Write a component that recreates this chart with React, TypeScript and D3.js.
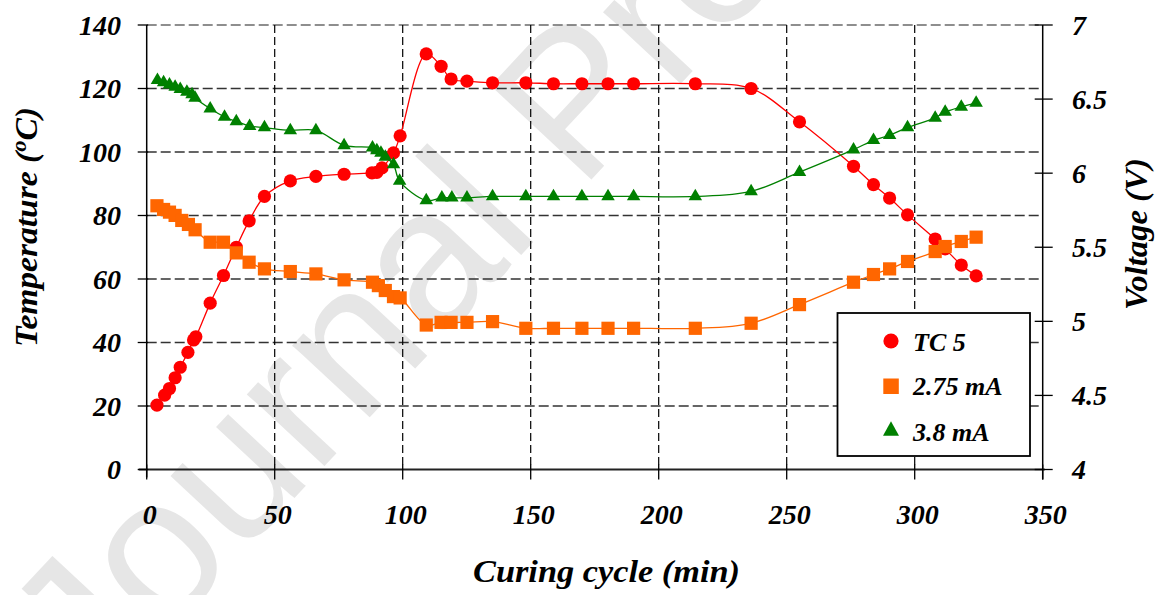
import React from "react";
import * as d3 from "d3";

const xTicks = [0, 50, 100, 150, 200, 250, 300, 350];
const tempTicks = [0, 20, 40, 60, 80, 100, 120, 140];
const voltTicks = [4, 4.5, 5, 5.5, 6, 6.5, 7];

const tcTime = [4.0, 7.0, 8.9, 11.1, 13.1, 16.1, 18.3, 19.2, 24.8, 30.0, 35.0, 40.0, 46.0, 56.1, 66.1, 77.1, 88.0, 89.9, 91.9, 96.4, 99.0, 109.2, 115.0, 118.9, 125.1, 135.1, 148.1, 158.9, 170.0, 180.2, 190.2, 214.3, 236.1, 255.0, 276.1, 283.9, 290.2, 297.2, 308.0, 311.9, 318.2, 324.0];
const tcTemp = [20.3, 23.4, 25.5, 28.9, 32.2, 36.9, 40.8, 41.8, 52.4, 61.1, 70.0, 78.3, 86.0, 90.9, 92.3, 93.0, 93.4, 93.6, 95.0, 99.7, 105.1, 130.9, 127.0, 123.0, 122.3, 121.8, 121.8, 121.5, 121.5, 121.5, 121.5, 121.5, 120.0, 109.5, 95.5, 89.7, 85.5, 80.2, 72.6, 69.5, 64.4, 61.0];

const ma275Time = [4.0, 6.6, 8.9, 11.1, 13.7, 16.3, 18.9, 24.8, 30.0, 35.0, 40.0, 46.0, 56.1, 66.1, 77.1, 88.2, 90.5, 93.2, 96.4, 99.0, 109.2, 115.0, 118.9, 125.1, 135.1, 148.1, 158.9, 170.0, 180.2, 190.2, 214.3, 236.1, 255.0, 276.1, 283.9, 290.2, 297.2, 308.0, 311.9, 318.2, 324.0];
const ma275Volt = [5.78, 5.755, 5.737, 5.715, 5.681, 5.654, 5.618, 5.534, 5.534, 5.462, 5.399, 5.354, 5.336, 5.32, 5.28, 5.264, 5.241, 5.208, 5.167, 5.158, 4.975, 4.993, 4.993, 4.993, 4.998, 4.953, 4.953, 4.953, 4.953, 4.953, 4.953, 4.987, 5.113, 5.264, 5.316, 5.354, 5.404, 5.471, 5.505, 5.539, 5.568];

const ma38Time = [4.2, 6.6, 8.9, 11.1, 13.1, 15.7, 17.7, 18.9, 24.8, 30.4, 35.0, 40.2, 46.0, 56.1, 66.1, 77.1, 88.2, 89.9, 91.5, 93.2, 96.4, 98.8, 109.2, 115.3, 119.2, 125.1, 135.1, 148.1, 158.9, 170.0, 180.2, 190.2, 214.3, 236.1, 255.0, 276.1, 283.9, 290.2, 297.2, 308.0, 311.9, 318.2, 324.0];
const ma38Volt = [6.627, 6.612, 6.598, 6.582, 6.567, 6.548, 6.531, 6.508, 6.436, 6.379, 6.35, 6.318, 6.308, 6.289, 6.289, 6.188, 6.172, 6.154, 6.136, 6.109, 6.059, 5.947, 5.816, 5.834, 5.834, 5.834, 5.843, 5.843, 5.843, 5.843, 5.843, 5.843, 5.843, 5.877, 6.007, 6.159, 6.222, 6.256, 6.308, 6.373, 6.413, 6.447, 6.474];

const seriesNames = ["TC 5", "2.75 mA", "3.8 mA"];

const W = 1162;
const H = 595;

const RED = "#FF0000";
const ORANGE = "#FF6600";
const GREEN = "#008000";

const serif: React.CSSProperties = {
  fontFamily: "Liberation Serif, Times New Roman, Times, serif",
  fontStyle: "italic",
  fontWeight: 700,
};

function triPath(cx: number, cy: number, w: number, h: number) {
  return `M${cx},${cy - (2 * h) / 3}L${cx + w / 2},${cy + h / 3}L${cx - w / 2},${cy + h / 3}Z`;
}

export default function App() {
  const x = d3.scaleLinear().domain([0, 350]).range([146.7, 1042.7]);
  const yT = d3.scaleLinear().domain([0, 140]).range([469.5, 25]);
  const yV = d3.scaleLinear().domain([4, 7]).range([469.5, 25]);

  const tcData = tcTime.map((t, i) => [t, tcTemp[i]] as [number, number]);
  const aData = ma275Time.map((t, i) => [t, ma275Volt[i]] as [number, number]);
  const bData = ma38Time.map((t, i) => [t, ma38Volt[i]] as [number, number]);

  const curve = d3.curveCatmullRom.alpha(0.5);
  const lineT = d3.line<[number, number]>().x((d) => x(d[0])).y((d) => yT(d[1])).curve(curve);
  const lineV = d3.line<[number, number]>().x((d) => x(d[0])).y((d) => yV(d[1])).curve(curve);

  const left = x(0);
  const right = x(350);
  const top = yT(140);
  const bottom = yT(0);

  return (
    <div style={{ position: "fixed", left: 0, top: 0, width: W, height: H, background: "#fff" }}>
      <svg width={W} height={H} style={{ display: "block" }}>
        <rect x={0} y={0} width={W} height={H} fill="#fff" />
        {/* watermark */}
        <text
          transform="translate(95,712) rotate(-47)"
          style={{ fontFamily: "Liberation Sans, Arial, sans-serif", fontSize: 200 }}
          fill="#e6e6e6"
        >
          Journal Pre-proof
        </text>

        {/* horizontal grid */}
        {tempTicks.filter((t) => t > 0).map((t) => (
          <line key={"h" + t} x1={left} x2={right} y1={yT(t)} y2={yT(t)} stroke={t === 140 ? "#6a6a6a" : "#333"} strokeWidth={1.5} strokeDasharray="10 4" />
        ))}
        {/* vertical grid */}
        {xTicks.filter((t) => t > 0 && t < 350).map((t) => (
          <line key={"v" + t} x1={x(t)} x2={x(t)} y1={top} y2={bottom} stroke="#000" strokeWidth={1.2} strokeDasharray="8 4" />
        ))}

        {/* axes */}
        <line x1={left} x2={left} y1={top} y2={bottom + 8} stroke="#000" strokeWidth={1.5} />
        <line x1={right} x2={right} y1={top} y2={bottom + 10} stroke="#000" strokeWidth={1.5} />
        <line x1={left - 8} x2={right + 2} y1={bottom} y2={bottom} stroke="#222" strokeWidth={2} />
        {tempTicks.map((t) => (
          <g key={"lt" + t}>
            <line x1={left - 9} x2={left + 1.5} y1={yT(t)} y2={yT(t)} stroke="#000" strokeWidth={1.3} />
            <text x={121} y={yT(t) + 9.5} textAnchor="end" style={{ ...serif, fontSize: 28 }}>
              {t}
            </text>
          </g>
        ))}
        {voltTicks.map((v) => (
          <g key={"rt" + v}>
            <line x1={right - 8} x2={right + 10} y1={yV(v)} y2={yV(v)} stroke="#000" strokeWidth={1.3} />
            <text x={1072} y={yV(v) + 9.5} textAnchor="start" style={{ ...serif, fontSize: 28 }}>
              {v}
            </text>
          </g>
        ))}
        {xTicks.map((t) => (
          <g key={"bt" + t}>
            <line x1={x(t)} x2={x(t)} y1={bottom - 5} y2={bottom + 10} stroke="#000" strokeWidth={1.3} />
            <text x={x(t) + 3} y={524} textAnchor="middle" style={{ ...serif, fontSize: 28 }}>
              {t}
            </text>
          </g>
        ))}

        {/* axis titles */}
        <text x={606.5} y={582} textAnchor="middle" style={{ ...serif, fontSize: 31 }} textLength={267} lengthAdjust="spacingAndGlyphs">
          Curing cycle (min)
        </text>
        <text transform="translate(37,227) rotate(-90)" textAnchor="middle" style={{ ...serif, fontSize: 31 }} textLength={240} lengthAdjust="spacingAndGlyphs">
          Temperature (<tspan style={{ fontSize: 21 }} dy={-11}>o</tspan><tspan dy={11}>C)</tspan>
        </text>
        <text transform="translate(1147,234) rotate(-90)" textAnchor="middle" style={{ ...serif, fontSize: 31 }} textLength={152} lengthAdjust="spacingAndGlyphs">
          Voltage (V)
        </text>

        {/* TC 5 */}
        <path d={lineT(tcData) || ""} fill="none" stroke={RED} strokeWidth={1.3} />
        {tcData.map((d, i) => (
          <circle key={"c" + i} cx={x(d[0])} cy={yT(d[1])} r={6.6} fill={RED} />
        ))}
        {/* 2.75 mA */}
        <path d={lineV(aData) || ""} fill="none" stroke={ORANGE} strokeWidth={1.3} />
        {aData.map((d, i) => (
          <rect key={"s" + i} x={x(d[0]) - 6.6} y={yV(d[1]) - 6.6} width={13.2} height={13.2} fill={ORANGE} />
        ))}
        {/* 3.8 mA */}
        <path d={lineV(bData) || ""} fill="none" stroke={GREEN} strokeWidth={1.3} />
        {bData.map((d, i) => (
          <path key={"t" + i} d={triPath(x(d[0]), yV(d[1]), 13.5, 11.5)} fill={GREEN} />
        ))}

        {/* legend */}
        <rect x={837.5} y={313} width={192.5} height={143} fill="#fff" stroke="#000" strokeWidth={1.8} />
        <circle cx={891} cy={341} r={7.6} fill={RED} />
        <rect x={883.3} y={378.5} width={15.5} height={15.5} fill={ORANGE} />
        <path d={triPath(891, 431, 16, 14.5)} fill={GREEN} />
        {seriesNames.map((n, i) => (
          <text key={n} x={913} y={[351, 394.5, 441][i]} style={{ ...serif, fontSize: 26 }}>
            {n}
          </text>
        ))}
      </svg>
    </div>
  );
}
